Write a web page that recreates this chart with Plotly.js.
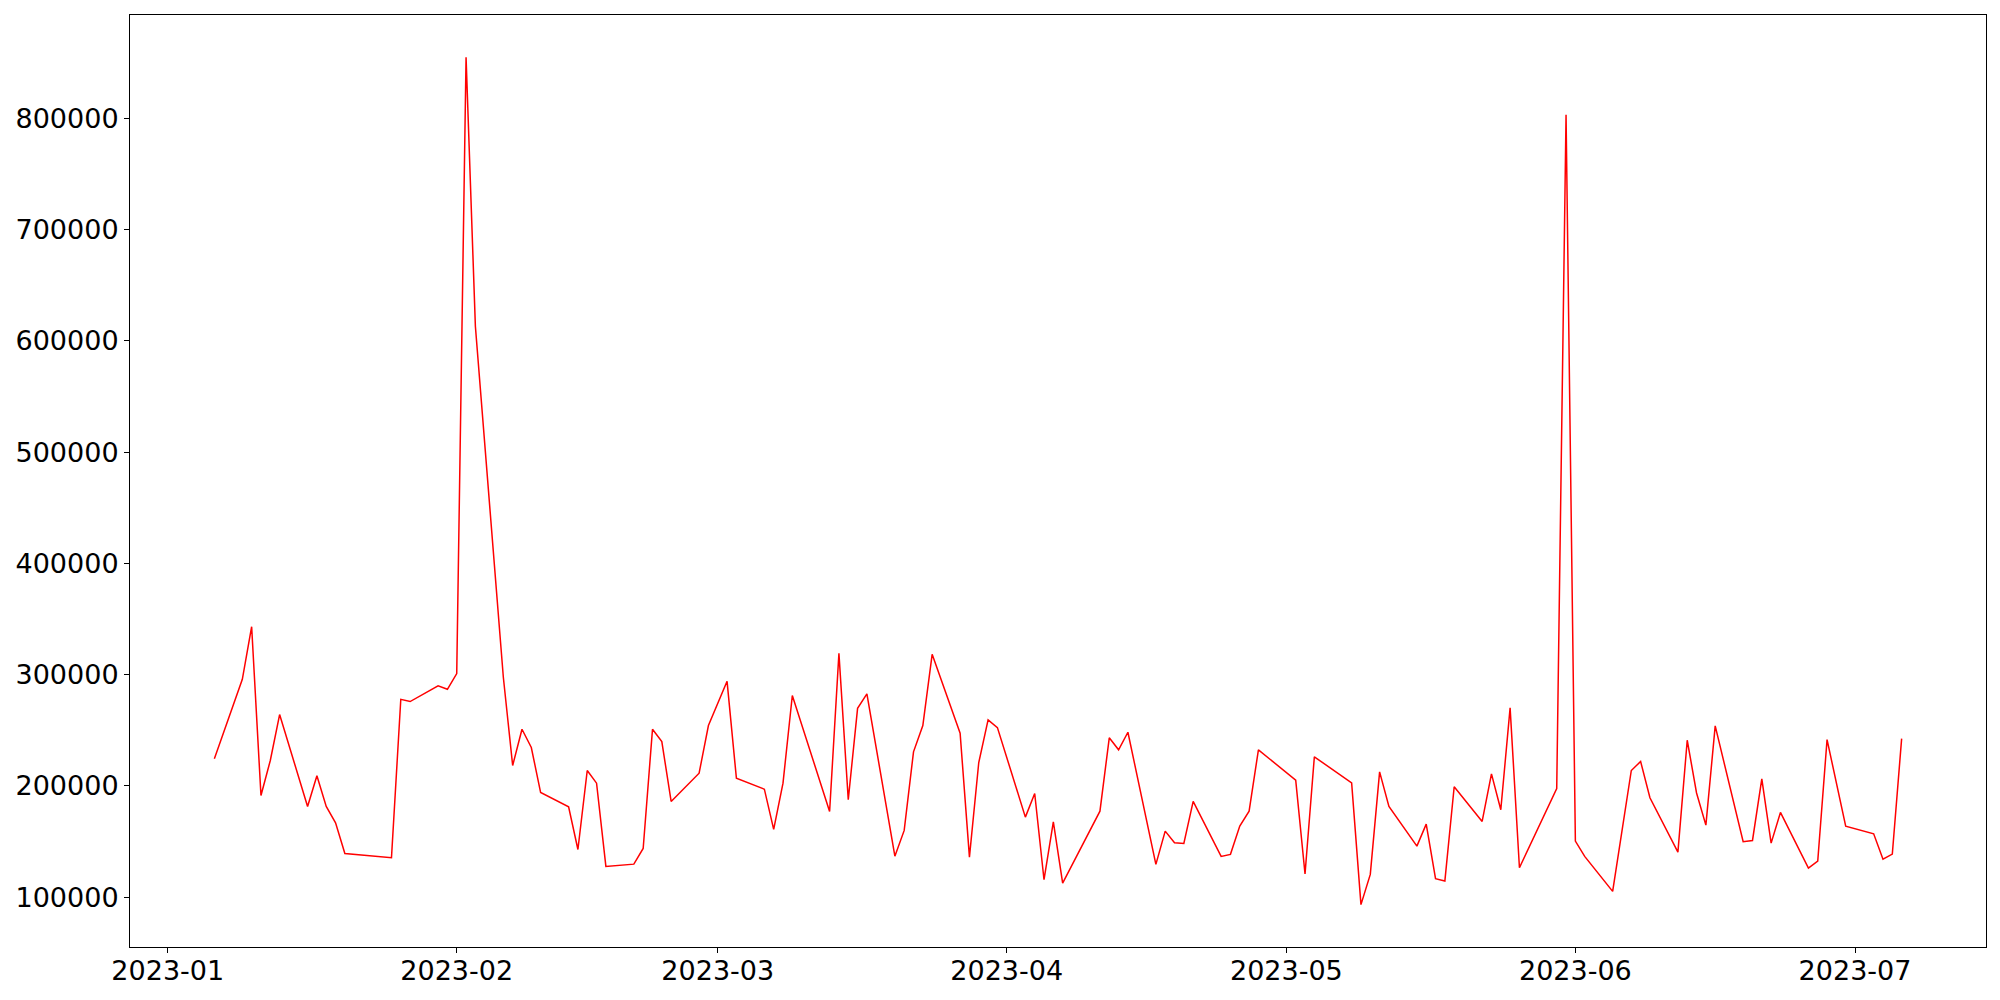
<!DOCTYPE html>
<html>
<head>
<meta charset="utf-8">
<script src="https://cdn.plot.ly/plotly-3.0.1.min.js"></script>
<style>html,body{margin:0;padding:0;background:#fff;}#chart{width:2000px;height:1000px;}</style>
</head>
<body>
<div id="chart"></div>
<script>
const dates = [
"2023-01-06","2023-01-09","2023-01-10","2023-01-11","2023-01-12","2023-01-13",
"2023-01-16","2023-01-17","2023-01-18","2023-01-19","2023-01-20",
"2023-01-25","2023-01-26","2023-01-27","2023-01-30","2023-01-31",
"2023-02-01","2023-02-02","2023-02-03","2023-02-06","2023-02-07","2023-02-08","2023-02-09","2023-02-10",
"2023-02-13","2023-02-14","2023-02-15","2023-02-16","2023-02-17",
"2023-02-20","2023-02-21","2023-02-22","2023-02-23","2023-02-24",
"2023-02-27","2023-02-28","2023-03-02","2023-03-03",
"2023-03-06","2023-03-07","2023-03-08","2023-03-09",
"2023-03-13","2023-03-14","2023-03-15","2023-03-16","2023-03-17",
"2023-03-20","2023-03-21","2023-03-22","2023-03-23","2023-03-24",
"2023-03-27","2023-03-28","2023-03-29","2023-03-30","2023-03-31",
"2023-04-03","2023-04-04","2023-04-05","2023-04-06","2023-04-07",
"2023-04-11","2023-04-12","2023-04-13","2023-04-14",
"2023-04-17","2023-04-18","2023-04-19","2023-04-20","2023-04-21",
"2023-04-24","2023-04-25","2023-04-26","2023-04-27","2023-04-28",
"2023-05-02","2023-05-03","2023-05-04",
"2023-05-08","2023-05-09","2023-05-10","2023-05-11","2023-05-12",
"2023-05-15","2023-05-16","2023-05-17","2023-05-18","2023-05-19",
"2023-05-22","2023-05-23","2023-05-24","2023-05-25","2023-05-26",
"2023-05-30","2023-05-31","2023-06-01","2023-06-02",
"2023-06-05","2023-06-07","2023-06-08","2023-06-09",
"2023-06-12","2023-06-13","2023-06-14","2023-06-15","2023-06-16",
"2023-06-19","2023-06-20","2023-06-21","2023-06-22","2023-06-23",
"2023-06-26","2023-06-27","2023-06-28","2023-06-30",
"2023-07-03","2023-07-04","2023-07-05","2023-07-06"
];
const values = [
224300,295800,343100,191300,222800,264100,
181500,209000,181500,166800,139200,
135400,277800,275800,289900,286800,
300900,855000,613200,297600,218300,250900,234500,194000,
181200,142800,213800,202400,127600,
129600,143700,250900,239800,186000,
211400,254200,294000,206900,
197000,160800,202400,281200,
177000,319100,187500,269700,282700,
136800,159900,230600,254200,318300,
247300,135900,221000,259300,252400,
171900,193100,115600,167700,112600,
177200,243200,232400,248200,
129400,159300,148900,148200,186000,
136600,138400,163800,177200,232400,
205100,120700,226100,
202700,93200,120400,212600,181500,
145800,165600,116500,114400,199200,
168000,210800,178500,270100,126400,
197600,803400,150300,136600,
105100,213800,221900,189300,
140400,241000,193600,164700,253900,
149800,150900,206300,148500,176100,
126000,132300,241600,163800,
156900,134100,138600,242500
];
const yTicks = [100000,200000,300000,400000,500000,600000,700000,800000];

// autoscale-like 5% margins
const tms = dates.map(d => new Date(d + "T00:00:00Z").getTime());
const tMin = Math.min(...tms), tMax = Math.max(...tms);
const tPad = (tMax - tMin) * 0.05;
const fmt = t => new Date(t).toISOString().replace("T"," ").slice(0,19);
const vMin = Math.min(...values), vMax = Math.max(...values);
const vPad = (vMax - vMin) * 0.05;

const font = {family: "DejaVu Sans", size: 27, color: "#000"};
Plotly.newPlot("chart", [{
  x: dates, y: values, type: "scatter", mode: "lines",
  line: {color: "#ff0000", width: 1.5}
}], {
  width: 2000, height: 1000,
  margin: {l: 130, r: 14, t: 15, b: 53, pad: 0},
  paper_bgcolor: "#fff", plot_bgcolor: "#fff",
  showlegend: false,
  font: font,
  xaxis: {
    type: "date", range: [fmt(tMin - tPad), fmt(tMax + tPad)],
    tickformat: "%Y-%m", dtick: "M1", tick0: "2023-01-01",
    showgrid: false, zeroline: false,
    showline: true, mirror: true, linecolor: "#000", linewidth: 1,
    ticks: "outside", ticklen: 5, tickwidth: 1, tickcolor: "#000",
    ticklabelstandoff: -5,
    tickfont: font
  },
  yaxis: {
    range: [vMin - vPad, vMax + vPad],
    tickvals: yTicks, ticktext: yTicks.map(String),
    showgrid: false, zeroline: false,
    showline: true, mirror: true, linecolor: "#000", linewidth: 1,
    ticks: "outside", ticklen: 5, tickwidth: 1, tickcolor: "#000",
    tickfont: font
  }
}, {displayModeBar: false, staticPlot: true});
</script>
</body>
</html>
